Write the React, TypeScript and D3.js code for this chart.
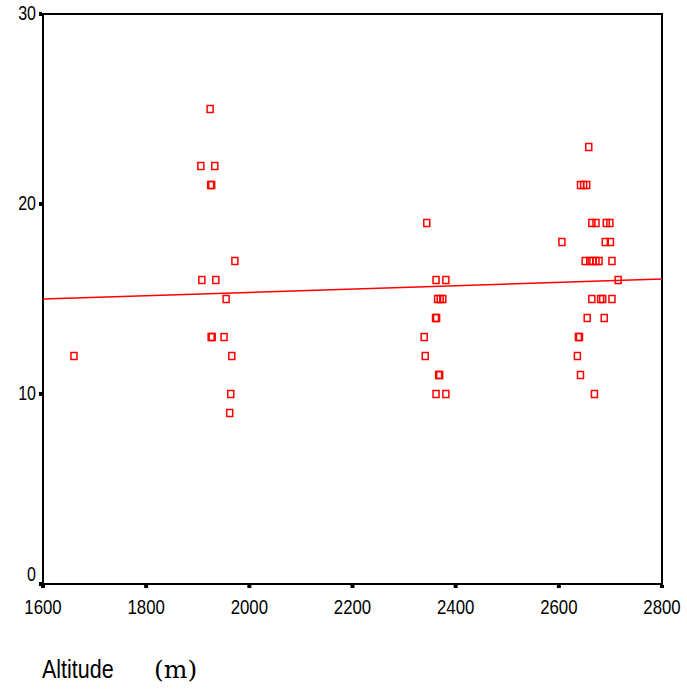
import React from "react";
import * as d3 from "d3";

const altitudes = [
  1660,
  1924, 1906, 1933, 1925, 1927, 1972, 1908, 1935, 1955, 1926, 1928, 1951, 1966, 1964, 1962,
  2344, 2362, 2381, 2365, 2370, 2375, 2361, 2363, 2339, 2341, 2367, 2369, 2362, 2381,
  2658, 2642, 2648, 2654, 2664, 2672, 2692, 2699, 2606, 2690, 2700, 2651, 2660, 2666, 2672, 2678,
  2703, 2715, 2664, 2681, 2685, 2703, 2655, 2688, 2638, 2640, 2636, 2642, 2669,
];
const values = [
  12,
  25, 22, 22, 21, 21, 17, 16, 16, 15, 13, 13, 13, 12, 10, 9,
  19, 16, 16, 15, 15, 15, 14, 14, 13, 12, 11, 11, 10, 10,
  23, 21, 21, 21, 19, 19, 19, 19, 18, 18, 18, 17, 17, 17, 17, 17,
  17, 16, 15, 15, 15, 15, 14, 14, 13, 13, 12, 11, 10,
];
const xTicks = [1600, 1800, 2000, 2200, 2400, 2600, 2800];
const yTicks = [0, 10, 20, 30];
const fitLine = [
  [1600, 15.0],
  [2800, 16.05],
];

const W = 687;
const H = 693;
const left = 43;
const right = 662;
const top = 14;
const bottom = 584;

const sans = "'Liberation Sans', Arial, sans-serif";

function Txt(props: {
  x: number;
  y: number;
  size: number;
  sx?: number;
  anchor?: "start" | "middle" | "end";
  family?: string;
  children: React.ReactNode;
}) {
  const { x, y, size, sx = 0.8, anchor = "start", family = sans, children } = props;
  return (
    <text
      transform={`translate(${x},${y}) scale(${sx},1)`}
      textAnchor={anchor}
      dominantBaseline="middle"
      fontFamily={family}
      fontSize={size}
      fill="#000"
    >
      {children}
    </text>
  );
}

export default function App() {
  const x = d3.scaleLinear().domain([1600, 2800]).range([left, right]);
  const y = d3.scaleLinear().domain([0, 30]).range([bottom, top]);
  const line = d3
    .line<number[]>()
    .x((d) => x(d[0]))
    .y((d) => y(d[1]));
  const mw = 6;
  const mh = 7;
  return (
    <svg
      width={W}
      height={H}
      style={{ position: "absolute", left: 0, top: 0, background: "#fff" }}
    >
      <rect x={left} y={top} width={right - left} height={bottom - top} fill="none" stroke="#000" strokeWidth={2} />
      {yTicks.map((t) => (
        <g key={"y" + t}>
          <rect x={left - 4} y={y(t) - 2} width={3} height={4} fill="#000" />
          <Txt x={left - 7} y={t === 0 ? y(t) - 8 : y(t) + 1} size={20} anchor="end">
            {t}
          </Txt>
        </g>
      ))}
      {xTicks.map((t) => (
        <g key={"x" + t}>
          <rect x={x(t) - 2} y={bottom + 1} width={4} height={3} fill="#000" />
          <Txt x={x(t)} y={bottom + 24} size={21} anchor="middle">
            {t}
          </Txt>
        </g>
      ))}
      <path d={line(fitLine) || ""} fill="none" stroke="#f00" strokeWidth={1.5} />
      {altitudes.map((a, i) => (
        <rect
          key={"p" + i}
          x={x(a) - mw / 2}
          y={y(values[i]) - mh / 2}
          width={mw}
          height={mh}
          fill="none"
          stroke="#f00"
          strokeWidth={1.5}
        />
      ))}
      <Txt x={42} y={671} size={25} sx={0.86}>
        Altitude
      </Txt>
      <Txt x={154} y={671} size={25} sx={1} family="'DejaVu Serif', 'Liberation Serif', serif">
        (m)
      </Txt>
    </svg>
  );
}
